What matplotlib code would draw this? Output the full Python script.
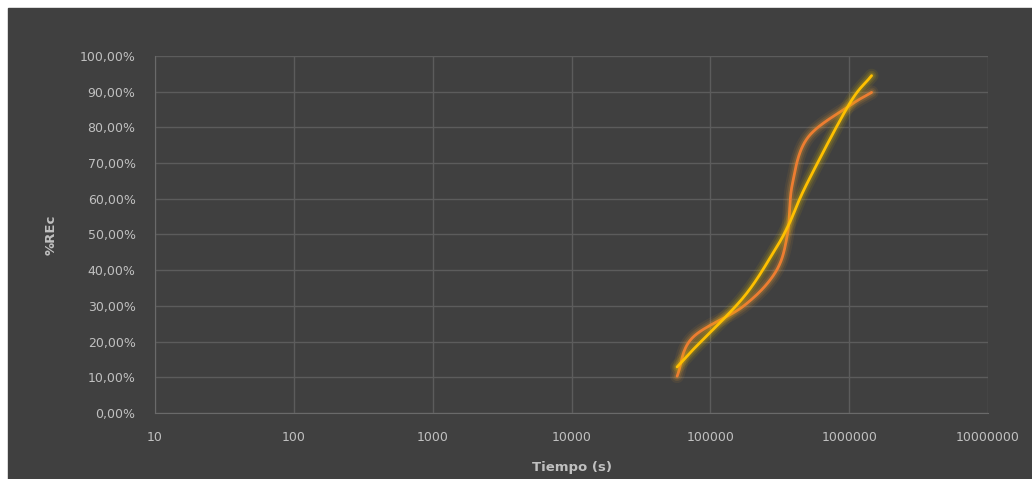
import matplotlib.pyplot as plt
import matplotlib.patches as mpatches
import numpy as np

# Data (tiempo in s, %REc in %)
tiempo = [57600, 74000, 174000, 295000, 359000, 389000, 500000, 1000000, 1450000]
rec_exp = [10.3, 21.0, 30.0, 39.5, 50.0, 64.0, 77.0, 86.0, 89.8]
rec_mod = [12.9, 17.5, 32.5, 46.0, 52.0, 55.0, 64.5, 86.5, 94.5]

x_ticks = [10, 100, 1000, 10000, 100000, 1000000, 10000000]
y_ticks = list(range(0, 101, 10))

bg = '#404040'
txt = '#c0c0c0'
grid = '#5c5c5c'


def smooth(x, y, n=30):
    # Catmull-Rom curve through the points, in log-x space (like Excel's smoothed line)
    lx = np.log10(x)
    y = np.asarray(y, float)
    px = np.concatenate([[2 * lx[0] - lx[1]], lx, [2 * lx[-1] - lx[-2]]])
    py = np.concatenate([[2 * y[0] - y[1]], y, [2 * y[-1] - y[-2]]])
    xs, ys = [], []
    t = np.linspace(0, 1, n)
    for i in range(1, len(px) - 2):
        for arr, out in ((px, xs), (py, ys)):
            p0, p1, p2, p3 = arr[i - 1], arr[i], arr[i + 1], arr[i + 2]
            out.extend(0.5 * ((2 * p1) + (-p0 + p2) * t
                              + (2 * p0 - 5 * p1 + 4 * p2 - p3) * t ** 2
                              + (-p0 + 3 * p1 - 3 * p2 + p3) * t ** 3))
    return 10 ** np.array(xs), np.array(ys)


fig = plt.figure(figsize=(10.32, 4.79), dpi=100, facecolor='white')
fig.patches.append(mpatches.Rectangle((8 / 1032, 0), 1, 1 - 8 / 479,
                                      transform=fig.transFigure, color=bg, zorder=-10))

ax = fig.add_axes([0.1502, 0.1378, 0.8072, 0.7453])
ax.set_facecolor(bg)

for y, col, glow in ((rec_exp, '#ED7D31', '#F0A030'), (rec_mod, '#FFC000', '#E8C000')):
    sx, sy = smooth(tiempo, y)
    for lw, a in ((10, 0.08), (7, 0.12), (4.5, 0.18)):
        ax.plot(sx, sy, color=glow, lw=lw, alpha=a, solid_capstyle='round')
    ax.plot(sx, sy, color=col, lw=2.0, solid_capstyle='round')

ax.set_xscale('log')
ax.set_xlim(10, 10000000)
ax.set_ylim(0, 100)
ax.set_xticks(x_ticks)
ax.set_xticklabels([str(v) for v in x_ticks])
ax.minorticks_off()
ax.set_yticks(y_ticks)
ax.set_yticklabels(['%d,00%%' % v for v in y_ticks])
ax.grid(True, color=grid, lw=1)
ax.set_axisbelow(True)
for s in ax.spines.values():
    s.set_visible(False)
ax.spines['left'].set_visible(True)
ax.spines['bottom'].set_visible(True)
ax.spines['left'].set_color('#6a6a6a')
ax.spines['bottom'].set_color('#6a6a6a')
ax.tick_params(length=0, labelsize=9, colors=txt)
ax.tick_params(axis='x', pad=13)
ax.tick_params(axis='y', pad=14)

ax.set_xlabel('Tiempo (s)', color=txt, fontsize=9.5, fontweight='bold', labelpad=12)
ax.set_ylabel('%REc', color=txt, fontsize=9.5, fontweight='bold', labelpad=16)

plt.savefig('out.png', dpi=100, facecolor=fig.get_facecolor())
